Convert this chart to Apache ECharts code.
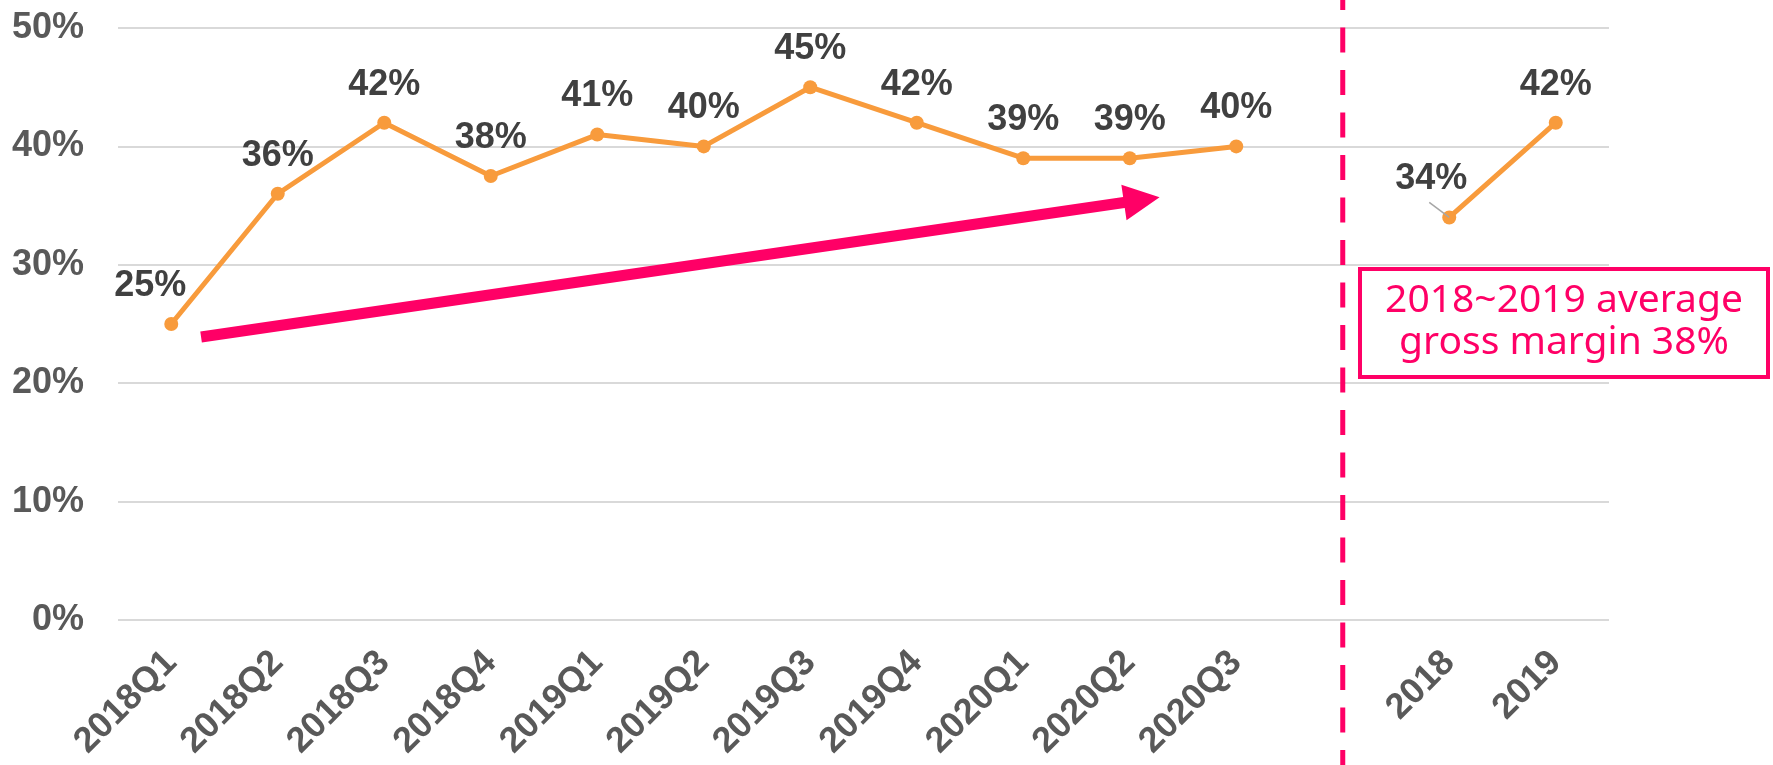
<!DOCTYPE html>
<html><head><meta charset="utf-8">
<script src="https://cdn.jsdelivr.net/npm/echarts@6/dist/echarts.min.js"></script>
<style>html,body{margin:0;padding:0;background:#fff}#c{width:1773px;height:765px}</style>
</head><body><div id="c"></div>
<script>
// ---- data ----
const categories = ['2018Q1','2018Q2','2018Q3','2018Q4','2019Q1','2019Q2','2019Q3','2019Q4','2020Q1','2020Q2','2020Q3','','2018','2019'];
const grossMargin = [25, 36, 42, 37.5, 41, 40, 45, 42, 39, 39, 40, null, 34, 42];
const yTickMin = 0, yTickMax = 50, yTickStep = 10;
const noteLines = ['2018~2019 average', 'gross margin 38%'];
const dividerIndex = 11;
const trendStart = {index: 0.28, value: 23.9};
const trendEnd = {index: 9.28, value: 35.7};

const FONT = "'Liberation Sans', Arial, sans-serif";
const PINK = '#FF0066';
const ORANGE = '#F89B3C';

const chart = echarts.init(document.getElementById('c'), null, {renderer: 'canvas'});

const seriesData = grossMargin.map((v, i) => {
  if (v === null) return null;
  const item = {value: v};
  if (i === 0) item.label = {offset: [-21, 0]};
  if (i === 12) item.label = {offset: [-18, 0]};
  return item;
});

chart.setOption({
  animation: false,
  backgroundColor: '#fff',
  grid: {left: 118, right: 164, top: 28, bottom: 145, containLabel: false},
  xAxis: {
    type: 'category',
    data: categories,
    boundaryGap: true,
    axisLine: {show: false},
    axisTick: {show: false},
    axisLabel: {
      interval: 0, rotate: 45, margin: 37,
      fontFamily: FONT, fontSize: 36, fontWeight: 'bold', color: '#595959'
    }
  },
  yAxis: {
    type: 'value',
    min: yTickMin, max: yTickMax, interval: yTickStep,
    axisLine: {show: false},
    axisTick: {show: false},
    splitLine: {lineStyle: {color: '#D9D9D9', width: 2}},
    axisLabel: {
      formatter: '{value}%', margin: 34,
      fontFamily: FONT, fontSize: 36, fontWeight: 'bold', color: '#595959'
    }
  },
  series: [{
    type: 'line',
    data: seriesData,
    connectNulls: false,
    symbol: 'circle',
    symbolSize: 14,
    lineStyle: {color: ORANGE, width: 5},
    itemStyle: {color: ORANGE},
    label: {
      show: true, position: 'top', distance: 13,
      fontFamily: FONT, fontSize: 36, fontWeight: 'bold', color: '#404040',
      formatter: p => Math.round(p.value) + '%'
    }
  }]
});

function px(index, value) {
  const i0 = Math.floor(index);
  const a = chart.convertToPixel({gridIndex: 0}, [i0, value]);
  const b = chart.convertToPixel({gridIndex: 0}, [i0 + 1, value]);
  return [a[0] + (b[0] - a[0]) * (index - i0), a[1]];
}

// arrow
const s = px(trendStart.index, trendStart.value);
const e = px(trendEnd.index, trendEnd.value);
const dx = e[0] - s[0], dy = e[1] - s[1];
const len = Math.hypot(dx, dy);
const ux = dx / len, uy = dy / len;
const nx = -uy, ny = ux;
const headLen = 36, headHalf = 18, shaftHalf = 5.5;
const bx = e[0] - ux * headLen, by = e[1] - uy * headLen;

// divider
const divX = chart.convertToPixel({gridIndex: 0}, [dividerIndex, 0])[0];

// leader line for 2018 label
const p2018 = chart.convertToPixel({gridIndex: 0}, [12, grossMargin[12]]);

chart.setOption({
  graphic: [
    {
      type: 'line', silent: true, z: 1,
      shape: {x1: divX, y1: -15, x2: divX, y2: 800},
      style: {stroke: PINK, lineWidth: 5, lineDash: [25, 17.5]}
    },
    {
      type: 'polygon', silent: true, z: 5,
      shape: {points: [
        [s[0] + nx * shaftHalf, s[1] + ny * shaftHalf],
        [bx + nx * shaftHalf, by + ny * shaftHalf],
        [bx + nx * headHalf, by + ny * headHalf],
        [e[0], e[1]],
        [bx - nx * headHalf, by - ny * headHalf],
        [bx - nx * shaftHalf, by - ny * shaftHalf],
        [s[0] - nx * shaftHalf, s[1] - ny * shaftHalf]
      ]},
      style: {fill: PINK}
    },
    {
      type: 'line', silent: true, z: 4,
      shape: {x1: p2018[0], y1: p2018[1], x2: p2018[0] - 20, y2: p2018[1] - 15},
      style: {stroke: '#A6A6A6', lineWidth: 1.5}
    },
    {
      type: 'rect', silent: true, z: 6,
      shape: {x: 1360, y: 269, width: 408, height: 108},
      style: {fill: '#fff', stroke: PINK, lineWidth: 4}
    },
    {
      type: 'text', silent: true, z: 7,
      x: 1564, y: 322,
      style: {
        text: noteLines.join('\n'),
        font: "39px 'Noto Sans', sans-serif",
        fill: PINK, align: 'center', verticalAlign: 'middle', lineHeight: 42
      }
    }
  ]
});
</script></body></html>
